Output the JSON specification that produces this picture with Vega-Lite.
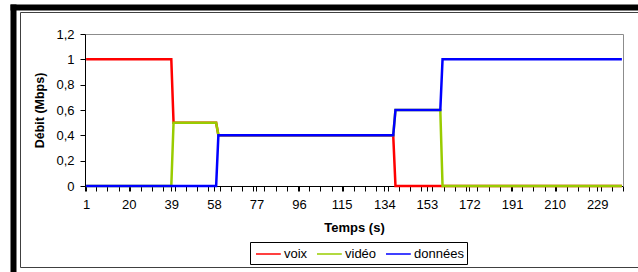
{
  "$schema": "https://vega.github.io/schema/vega-lite/v6.json",
  "width": 630,
  "height": 255,
  "autosize": {"type": "none"},
  "padding": {"left": 20, "top": 12, "right": -12, "bottom": 5},
  "background": "white",
  "config": {
    "font": "Liberation Sans",
    "axis": {"grid": false},
    "view": {"stroke": "#404040", "strokeWidth": 1, "fill": "white"}
  },
  "data": {"values": [
{"t":1,"voix":1,"vidéo":0,"données":0},{"t":2,"voix":1,"vidéo":0,"données":0},{"t":3,"voix":1,"vidéo":0,"données":0},{"t":4,"voix":1,"vidéo":0,"données":0},{"t":5,"voix":1,"vidéo":0,"données":0},{"t":6,"voix":1,"vidéo":0,"données":0},{"t":7,"voix":1,"vidéo":0,"données":0},{"t":8,"voix":1,"vidéo":0,"données":0},{"t":9,"voix":1,"vidéo":0,"données":0},{"t":10,"voix":1,"vidéo":0,"données":0},
{"t":11,"voix":1,"vidéo":0,"données":0},{"t":12,"voix":1,"vidéo":0,"données":0},{"t":13,"voix":1,"vidéo":0,"données":0},{"t":14,"voix":1,"vidéo":0,"données":0},{"t":15,"voix":1,"vidéo":0,"données":0},{"t":16,"voix":1,"vidéo":0,"données":0},{"t":17,"voix":1,"vidéo":0,"données":0},{"t":18,"voix":1,"vidéo":0,"données":0},{"t":19,"voix":1,"vidéo":0,"données":0},{"t":20,"voix":1,"vidéo":0,"données":0},
{"t":21,"voix":1,"vidéo":0,"données":0},{"t":22,"voix":1,"vidéo":0,"données":0},{"t":23,"voix":1,"vidéo":0,"données":0},{"t":24,"voix":1,"vidéo":0,"données":0},{"t":25,"voix":1,"vidéo":0,"données":0},{"t":26,"voix":1,"vidéo":0,"données":0},{"t":27,"voix":1,"vidéo":0,"données":0},{"t":28,"voix":1,"vidéo":0,"données":0},{"t":29,"voix":1,"vidéo":0,"données":0},{"t":30,"voix":1,"vidéo":0,"données":0},
{"t":31,"voix":1,"vidéo":0,"données":0},{"t":32,"voix":1,"vidéo":0,"données":0},{"t":33,"voix":1,"vidéo":0,"données":0},{"t":34,"voix":1,"vidéo":0,"données":0},{"t":35,"voix":1,"vidéo":0,"données":0},{"t":36,"voix":1,"vidéo":0,"données":0},{"t":37,"voix":1,"vidéo":0,"données":0},{"t":38,"voix":1,"vidéo":0,"données":0},{"t":39,"voix":1,"vidéo":0,"données":0},{"t":40,"voix":0.5,"vidéo":0.5,"données":0},
{"t":41,"voix":0.5,"vidéo":0.5,"données":0},{"t":42,"voix":0.5,"vidéo":0.5,"données":0},{"t":43,"voix":0.5,"vidéo":0.5,"données":0},{"t":44,"voix":0.5,"vidéo":0.5,"données":0},{"t":45,"voix":0.5,"vidéo":0.5,"données":0},{"t":46,"voix":0.5,"vidéo":0.5,"données":0},{"t":47,"voix":0.5,"vidéo":0.5,"données":0},{"t":48,"voix":0.5,"vidéo":0.5,"données":0},{"t":49,"voix":0.5,"vidéo":0.5,"données":0},{"t":50,"voix":0.5,"vidéo":0.5,"données":0},
{"t":51,"voix":0.5,"vidéo":0.5,"données":0},{"t":52,"voix":0.5,"vidéo":0.5,"données":0},{"t":53,"voix":0.5,"vidéo":0.5,"données":0},{"t":54,"voix":0.5,"vidéo":0.5,"données":0},{"t":55,"voix":0.5,"vidéo":0.5,"données":0},{"t":56,"voix":0.5,"vidéo":0.5,"données":0},{"t":57,"voix":0.5,"vidéo":0.5,"données":0},{"t":58,"voix":0.5,"vidéo":0.5,"données":0},{"t":59,"voix":0.5,"vidéo":0.5,"données":0},{"t":60,"voix":0.4,"vidéo":0.4,"données":0.4},
{"t":61,"voix":0.4,"vidéo":0.4,"données":0.4},{"t":62,"voix":0.4,"vidéo":0.4,"données":0.4},{"t":63,"voix":0.4,"vidéo":0.4,"données":0.4},{"t":64,"voix":0.4,"vidéo":0.4,"données":0.4},{"t":65,"voix":0.4,"vidéo":0.4,"données":0.4},{"t":66,"voix":0.4,"vidéo":0.4,"données":0.4},{"t":67,"voix":0.4,"vidéo":0.4,"données":0.4},{"t":68,"voix":0.4,"vidéo":0.4,"données":0.4},{"t":69,"voix":0.4,"vidéo":0.4,"données":0.4},{"t":70,"voix":0.4,"vidéo":0.4,"données":0.4},
{"t":71,"voix":0.4,"vidéo":0.4,"données":0.4},{"t":72,"voix":0.4,"vidéo":0.4,"données":0.4},{"t":73,"voix":0.4,"vidéo":0.4,"données":0.4},{"t":74,"voix":0.4,"vidéo":0.4,"données":0.4},{"t":75,"voix":0.4,"vidéo":0.4,"données":0.4},{"t":76,"voix":0.4,"vidéo":0.4,"données":0.4},{"t":77,"voix":0.4,"vidéo":0.4,"données":0.4},{"t":78,"voix":0.4,"vidéo":0.4,"données":0.4},{"t":79,"voix":0.4,"vidéo":0.4,"données":0.4},{"t":80,"voix":0.4,"vidéo":0.4,"données":0.4},
{"t":81,"voix":0.4,"vidéo":0.4,"données":0.4},{"t":82,"voix":0.4,"vidéo":0.4,"données":0.4},{"t":83,"voix":0.4,"vidéo":0.4,"données":0.4},{"t":84,"voix":0.4,"vidéo":0.4,"données":0.4},{"t":85,"voix":0.4,"vidéo":0.4,"données":0.4},{"t":86,"voix":0.4,"vidéo":0.4,"données":0.4},{"t":87,"voix":0.4,"vidéo":0.4,"données":0.4},{"t":88,"voix":0.4,"vidéo":0.4,"données":0.4},{"t":89,"voix":0.4,"vidéo":0.4,"données":0.4},{"t":90,"voix":0.4,"vidéo":0.4,"données":0.4},
{"t":91,"voix":0.4,"vidéo":0.4,"données":0.4},{"t":92,"voix":0.4,"vidéo":0.4,"données":0.4},{"t":93,"voix":0.4,"vidéo":0.4,"données":0.4},{"t":94,"voix":0.4,"vidéo":0.4,"données":0.4},{"t":95,"voix":0.4,"vidéo":0.4,"données":0.4},{"t":96,"voix":0.4,"vidéo":0.4,"données":0.4},{"t":97,"voix":0.4,"vidéo":0.4,"données":0.4},{"t":98,"voix":0.4,"vidéo":0.4,"données":0.4},{"t":99,"voix":0.4,"vidéo":0.4,"données":0.4},{"t":100,"voix":0.4,"vidéo":0.4,"données":0.4},
{"t":101,"voix":0.4,"vidéo":0.4,"données":0.4},{"t":102,"voix":0.4,"vidéo":0.4,"données":0.4},{"t":103,"voix":0.4,"vidéo":0.4,"données":0.4},{"t":104,"voix":0.4,"vidéo":0.4,"données":0.4},{"t":105,"voix":0.4,"vidéo":0.4,"données":0.4},{"t":106,"voix":0.4,"vidéo":0.4,"données":0.4},{"t":107,"voix":0.4,"vidéo":0.4,"données":0.4},{"t":108,"voix":0.4,"vidéo":0.4,"données":0.4},{"t":109,"voix":0.4,"vidéo":0.4,"données":0.4},{"t":110,"voix":0.4,"vidéo":0.4,"données":0.4},
{"t":111,"voix":0.4,"vidéo":0.4,"données":0.4},{"t":112,"voix":0.4,"vidéo":0.4,"données":0.4},{"t":113,"voix":0.4,"vidéo":0.4,"données":0.4},{"t":114,"voix":0.4,"vidéo":0.4,"données":0.4},{"t":115,"voix":0.4,"vidéo":0.4,"données":0.4},{"t":116,"voix":0.4,"vidéo":0.4,"données":0.4},{"t":117,"voix":0.4,"vidéo":0.4,"données":0.4},{"t":118,"voix":0.4,"vidéo":0.4,"données":0.4},{"t":119,"voix":0.4,"vidéo":0.4,"données":0.4},{"t":120,"voix":0.4,"vidéo":0.4,"données":0.4},
{"t":121,"voix":0.4,"vidéo":0.4,"données":0.4},{"t":122,"voix":0.4,"vidéo":0.4,"données":0.4},{"t":123,"voix":0.4,"vidéo":0.4,"données":0.4},{"t":124,"voix":0.4,"vidéo":0.4,"données":0.4},{"t":125,"voix":0.4,"vidéo":0.4,"données":0.4},{"t":126,"voix":0.4,"vidéo":0.4,"données":0.4},{"t":127,"voix":0.4,"vidéo":0.4,"données":0.4},{"t":128,"voix":0.4,"vidéo":0.4,"données":0.4},{"t":129,"voix":0.4,"vidéo":0.4,"données":0.4},{"t":130,"voix":0.4,"vidéo":0.4,"données":0.4},
{"t":131,"voix":0.4,"vidéo":0.4,"données":0.4},{"t":132,"voix":0.4,"vidéo":0.4,"données":0.4},{"t":133,"voix":0.4,"vidéo":0.4,"données":0.4},{"t":134,"voix":0.4,"vidéo":0.4,"données":0.4},{"t":135,"voix":0.4,"vidéo":0.4,"données":0.4},{"t":136,"voix":0.4,"vidéo":0.4,"données":0.4},{"t":137,"voix":0.4,"vidéo":0.4,"données":0.4},{"t":138,"voix":0.4,"vidéo":0.4,"données":0.4},{"t":139,"voix":0,"vidéo":0.6,"données":0.6},{"t":140,"voix":0,"vidéo":0.6,"données":0.6},
{"t":141,"voix":0,"vidéo":0.6,"données":0.6},{"t":142,"voix":0,"vidéo":0.6,"données":0.6},{"t":143,"voix":0,"vidéo":0.6,"données":0.6},{"t":144,"voix":0,"vidéo":0.6,"données":0.6},{"t":145,"voix":0,"vidéo":0.6,"données":0.6},{"t":146,"voix":0,"vidéo":0.6,"données":0.6},{"t":147,"voix":0,"vidéo":0.6,"données":0.6},{"t":148,"voix":0,"vidéo":0.6,"données":0.6},{"t":149,"voix":0,"vidéo":0.6,"données":0.6},{"t":150,"voix":0,"vidéo":0.6,"données":0.6},
{"t":151,"voix":0,"vidéo":0.6,"données":0.6},{"t":152,"voix":0,"vidéo":0.6,"données":0.6},{"t":153,"voix":0,"vidéo":0.6,"données":0.6},{"t":154,"voix":0,"vidéo":0.6,"données":0.6},{"t":155,"voix":0,"vidéo":0.6,"données":0.6},{"t":156,"voix":0,"vidéo":0.6,"données":0.6},{"t":157,"voix":0,"vidéo":0.6,"données":0.6},{"t":158,"voix":0,"vidéo":0.6,"données":0.6},{"t":159,"voix":0,"vidéo":0.6,"données":0.6},{"t":160,"voix":0,"vidéo":0,"données":1},
{"t":161,"voix":0,"vidéo":0,"données":1},{"t":162,"voix":0,"vidéo":0,"données":1},{"t":163,"voix":0,"vidéo":0,"données":1},{"t":164,"voix":0,"vidéo":0,"données":1},{"t":165,"voix":0,"vidéo":0,"données":1},{"t":166,"voix":0,"vidéo":0,"données":1},{"t":167,"voix":0,"vidéo":0,"données":1},{"t":168,"voix":0,"vidéo":0,"données":1},{"t":169,"voix":0,"vidéo":0,"données":1},{"t":170,"voix":0,"vidéo":0,"données":1},
{"t":171,"voix":0,"vidéo":0,"données":1},{"t":172,"voix":0,"vidéo":0,"données":1},{"t":173,"voix":0,"vidéo":0,"données":1},{"t":174,"voix":0,"vidéo":0,"données":1},{"t":175,"voix":0,"vidéo":0,"données":1},{"t":176,"voix":0,"vidéo":0,"données":1},{"t":177,"voix":0,"vidéo":0,"données":1},{"t":178,"voix":0,"vidéo":0,"données":1},{"t":179,"voix":0,"vidéo":0,"données":1},{"t":180,"voix":0,"vidéo":0,"données":1},
{"t":181,"voix":0,"vidéo":0,"données":1},{"t":182,"voix":0,"vidéo":0,"données":1},{"t":183,"voix":0,"vidéo":0,"données":1},{"t":184,"voix":0,"vidéo":0,"données":1},{"t":185,"voix":0,"vidéo":0,"données":1},{"t":186,"voix":0,"vidéo":0,"données":1},{"t":187,"voix":0,"vidéo":0,"données":1},{"t":188,"voix":0,"vidéo":0,"données":1},{"t":189,"voix":0,"vidéo":0,"données":1},{"t":190,"voix":0,"vidéo":0,"données":1},
{"t":191,"voix":0,"vidéo":0,"données":1},{"t":192,"voix":0,"vidéo":0,"données":1},{"t":193,"voix":0,"vidéo":0,"données":1},{"t":194,"voix":0,"vidéo":0,"données":1},{"t":195,"voix":0,"vidéo":0,"données":1},{"t":196,"voix":0,"vidéo":0,"données":1},{"t":197,"voix":0,"vidéo":0,"données":1},{"t":198,"voix":0,"vidéo":0,"données":1},{"t":199,"voix":0,"vidéo":0,"données":1},{"t":200,"voix":0,"vidéo":0,"données":1},
{"t":201,"voix":0,"vidéo":0,"données":1},{"t":202,"voix":0,"vidéo":0,"données":1},{"t":203,"voix":0,"vidéo":0,"données":1},{"t":204,"voix":0,"vidéo":0,"données":1},{"t":205,"voix":0,"vidéo":0,"données":1},{"t":206,"voix":0,"vidéo":0,"données":1},{"t":207,"voix":0,"vidéo":0,"données":1},{"t":208,"voix":0,"vidéo":0,"données":1},{"t":209,"voix":0,"vidéo":0,"données":1},{"t":210,"voix":0,"vidéo":0,"données":1},
{"t":211,"voix":0,"vidéo":0,"données":1},{"t":212,"voix":0,"vidéo":0,"données":1},{"t":213,"voix":0,"vidéo":0,"données":1},{"t":214,"voix":0,"vidéo":0,"données":1},{"t":215,"voix":0,"vidéo":0,"données":1},{"t":216,"voix":0,"vidéo":0,"données":1},{"t":217,"voix":0,"vidéo":0,"données":1},{"t":218,"voix":0,"vidéo":0,"données":1},{"t":219,"voix":0,"vidéo":0,"données":1},{"t":220,"voix":0,"vidéo":0,"données":1},
{"t":221,"voix":0,"vidéo":0,"données":1},{"t":222,"voix":0,"vidéo":0,"données":1},{"t":223,"voix":0,"vidéo":0,"données":1},{"t":224,"voix":0,"vidéo":0,"données":1},{"t":225,"voix":0,"vidéo":0,"données":1},{"t":226,"voix":0,"vidéo":0,"données":1},{"t":227,"voix":0,"vidéo":0,"données":1},{"t":228,"voix":0,"vidéo":0,"données":1},{"t":229,"voix":0,"vidéo":0,"données":1},{"t":230,"voix":0,"vidéo":0,"données":1},
{"t":231,"voix":0,"vidéo":0,"données":1},{"t":232,"voix":0,"vidéo":0,"données":1},{"t":233,"voix":0,"vidéo":0,"données":1},{"t":234,"voix":0,"vidéo":0,"données":1},{"t":235,"voix":0,"vidéo":0,"données":1},{"t":236,"voix":0,"vidéo":0,"données":1},{"t":237,"voix":0,"vidéo":0,"données":1},{"t":238,"voix":0,"vidéo":0,"données":1},{"t":239,"voix":0,"vidéo":0,"données":1},{"t":240,"voix":0,"vidéo":0,"données":1}
  ]},
  "transform": [{"fold": ["voix", "vidéo", "données"], "as": ["serie", "debit"]}],
  "resolve": {
    "scale": {"x": "independent", "y": "independent"},
    "axis": {"x": "independent", "y": "independent"}
  },
  "layer": [
    {
      "mark": {"type": "line", "strokeWidth": 2.5, "clip": false},
      "encoding": {
        "x": {
          "field": "t", "type": "quantitative",
          "scale": {"domain": [0.5, 240.5], "range": [65, 603], "nice": false, "zero": false},
          "axis": {
            "orient": "bottom", "offset": -81,
            "title": "Temps (s)",
            "titleFontSize": 13, "titleFontWeight": "bold", "titleColor": "black", "titlePadding": 10,
            "values": [0.5,5.5,10.5,15.5,20.5,25.5,30.5,35.5,40.5,45.5,50.5,55.5,60.5,65.5,70.5,75.5,80.5,85.5,90.5,95.5,100.5,105.5,110.5,115.5,120.5,125.5,130.5,135.5,140.5,145.5,150.5,155.5,160.5,165.5,170.5,175.5,180.5,185.5,190.5,195.5,200.5,205.5,210.5,215.5,220.5,225.5,230.5,235.5,240.5,1,20,39,58,77,96,115,134,153,172,191,210,229],
            "labelExpr": "(datum.value - 1) % 19 == 0 ? datum.value : ''",
            "encode": {"ticks": {"update": {"opacity": {"signal": "(datum.value - 0.5) % 5 == 0 ? 1 : 0"}}}},
            "labelOverlap": false, "labelFlush": false, "labelFontSize": 13, "labelColor": "black", "labelPadding": 7,
            "domainColor": "black", "tickColor": "black", "tickSize": 5
          }
        },
        "y": {
          "field": "debit", "type": "quantitative",
          "scale": {"domain": [0, 1.2], "range": [174, 22], "nice": false, "zero": false},
          "axis": {
            "orient": "left", "offset": -65,
            "title": "Débit (Mbps)",
            "titleFontSize": 12.5, "titleFontWeight": "bold", "titleColor": "black", "titlePadding": 9,
            "values": [0, 0.2, 0.4, 0.6, 0.8, 1, 1.2],
            "labelExpr": "replace(format(datum.value, '~g'), '.', ',')",
            "labelFontSize": 13, "labelColor": "black", "labelPadding": 6,
            "domainColor": "black", "tickColor": "black", "tickSize": 5
          }
        },
        "color": {
          "field": "serie", "type": "nominal",
          "scale": {"domain": ["voix", "vidéo", "données"], "range": ["#FF0000", "#99CC00", "#0000FF"]},
          "legend": {
            "title": null, "orient": "none", "legendX": 230, "legendY": 230, "direction": "horizontal",
            "strokeColor": "black", "fillColor": "white", "padding": 3,
            "symbolType": "M-0.75,0H2.35", "symbolSize": 256, "symbolStrokeWidth": 1.5,
            "labelFontSize": 13, "labelColor": "black", "labelOffset": 13, "columnPadding": 6
          }
        }
      }
    },
    {
      "transform": [{"filter": "false"}],
      "mark": {"type": "point"},
      "encoding": {
        "x": {
          "field": "t", "type": "quantitative",
          "scale": {"domain": [0, 1], "range": [-10, 640], "nice": false, "zero": false},
          "axis": {"orient": "top", "offset": 5, "title": null, "labels": false, "ticks": false, "domainColor": "black", "domainWidth": 6}
        },
        "y": {
          "field": "debit", "type": "quantitative",
          "scale": {"domain": [0, 1], "range": [262, -8], "nice": false, "zero": false},
          "axis": {"orient": "left", "offset": 7, "title": null, "labels": false, "ticks": false, "domainColor": "black", "domainWidth": 6}
        }
      }
    },
    {
      "transform": [{"filter": "false"}],
      "mark": {"type": "point"},
      "encoding": {
        "x": {
          "field": "t", "type": "quantitative",
          "scale": {"domain": [0, 1], "range": [65, 603], "nice": false, "zero": false},
          "axis": {"orient": "top", "offset": -22, "title": null, "labels": false, "ticks": false, "domainColor": "#8c8c8c", "domainWidth": 1}
        },
        "y": {
          "field": "debit", "type": "quantitative",
          "scale": {"domain": [0, 1], "range": [174, 22], "nice": false, "zero": false},
          "axis": {"orient": "right", "offset": -27, "title": null, "labels": false, "ticks": false, "domainColor": "#8c8c8c", "domainWidth": 1}
        }
      }
    }
  ]
}
